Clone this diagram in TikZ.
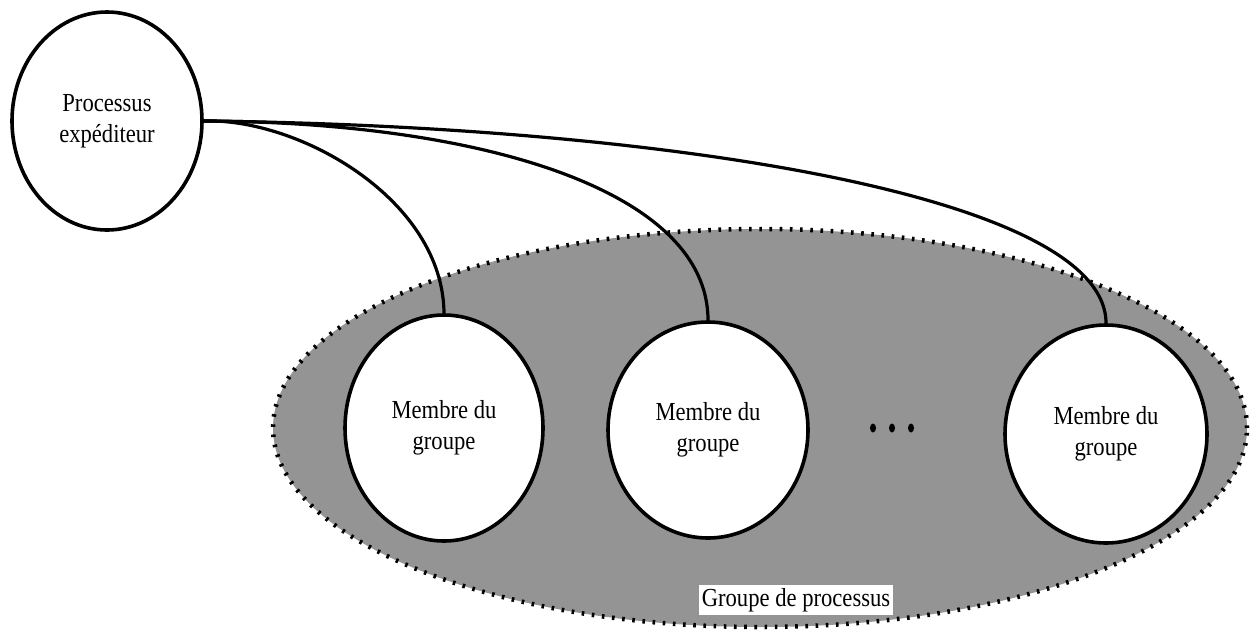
\documentclass[tikz,border=0pt]{standalone}
\usepackage{fontspec}
\setmainfont[FakeStretch=0.87]{Liberation Serif}
\usetikzlibrary{shapes.geometric}
\begin{document}
\begin{tikzpicture}[x=1pt,y=-1pt,
  proc/.style={ellipse,draw=black,line width=3.6pt,fill=white,inner sep=0pt,
    align=center,font=\fontsize{26}{31}\selectfont},
  groupzone/.style={ellipse,inner sep=0pt,fill=black!42,draw=black,
    line width=4.5pt,dash pattern=on 2.6pt off 7.6pt},
  link/.style={line width=3.2pt},
  grouplabel/.style={fill=white,inner xsep=3pt,inner ysep=3pt,
    font=\fontsize{26}{31}\selectfont}
]
\useasboundingbox (0,0) rectangle (1252,630);

% process group area
\node[groupzone,minimum width=974pt,minimum height=398pt] (group) at (760,428) {};
\node[grouplabel] (glabel) at (796,600) {Groupe de processus};

% sender
\node[proc,minimum width=190pt,minimum height=218pt] (sender) at (107,121)
  {Processus\\expéditeur};

% group members
\node[proc,minimum width=198pt,minimum height=226pt] (m1) at (444,428)
  {Membre du\\groupe};
\node[proc,minimum width=200pt,minimum height=216pt] (m2) at (708,430)
  {Membre du\\groupe};
\node[proc,minimum width=202pt,minimum height=218pt] (m3) at (1106,434)
  {Membre du\\groupe};

% ellipsis between members
\fill (873,428) ellipse [x radius=3pt,y radius=4.5pt];
\fill (892,428) ellipse [x radius=3pt,y radius=4.5pt];
\fill (911,428) ellipse [x radius=3pt,y radius=4.5pt];

% messages from the sender to each member
\draw[link] (sender.east) .. controls (300,118) and (443,200) .. (m1.north);
\draw[link] (sender.east) .. controls (480,122) and (708,190) .. (m2.north);
\draw[link] (sender.east) .. controls (660,126) and (1106,195) .. (m3.north);
\end{tikzpicture}
\end{document}
